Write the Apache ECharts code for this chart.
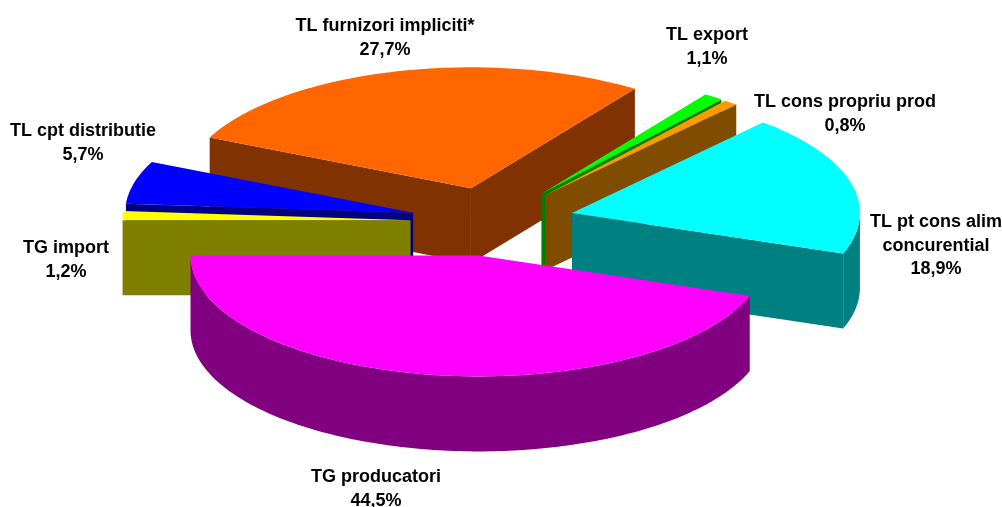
<!DOCTYPE html>
<html>
<head>
<meta charset="utf-8">
<title>Structura TL / TG</title>
<script src="https://cdn.jsdelivr.net/npm/echarts@6/dist/echarts.min.js"></script>
<style>
html,body{margin:0;padding:0;background:#fff;overflow:hidden;}
#container1{width:1002px;height:507px;}
</style>
</head>
<body>
<div id="container1"></div>
<script>
// slices in pie order, going round from the left edge through the front
var categories=['TG producatori','TL pt cons alim\nconcurential','TL cons propriu prod','TL export','TL furnizori impliciti*','TL cpt distributie','TG import'];
var shares=[44.5,18.9,0.8,1.1,27.7,5.7,1.2];

// colours: top face / side walls
var topColors=['#FF00FF','#00FFFF','#FF9900','#00FF00','#FF6600','#0000FF','#FFFF00'];
var sideColors=['#800080','#008080','#804D00','#008000','#803300','#000080','#808000'];

// label centres (first line), same order as categories
var labelX=[376,936,845,707,385,83,66];
var labelY=[477,222,102,35,26,131,248];

// 3d pie layout
var centerX=492.5,centerY=221.5;
var radius=288,tilt=0.42,depth=75,explode=82;
var startAngle=180;   // degrees, counter clockwise on the ground, front of the pie is 180..360

var total=0;
for(var i=0;i<shares.length;i++){total+=shares[i];}

var slices=[];
var cursor=startAngle;
for(var i=0;i<shares.length;i++){
	var sweep=shares[i]/total*360;
	var mid=(cursor+sweep/2)*Math.PI/180;
	slices.push({
		from:cursor,
		to:cursor+sweep,
		apexX:centerX+explode*Math.cos(mid),
		apexY:centerY-explode*Math.sin(mid)*tilt
	});
	cursor+=sweep;
}

// far slices first so the near ones paint over them
var drawOrder=[];
for(var i=0;i<slices.length;i++){drawOrder.push(i);}
drawOrder.sort(function(a,b){return slices[a].apexY-slices[b].apexY;});

function rimPoint(s,deg,drop){
	var r=deg*Math.PI/180;
	return [s.apexX+radius*Math.cos(r),s.apexY-radius*Math.sin(r)*tilt+drop];
}

function poly(points,color){
	return {type:'polygon',shape:{points:points},style:{fill:color}};
}

function cutWall(s,deg,color){
	var a=[s.apexX,s.apexY],b=rimPoint(s,deg,0);
	return poly([a,b,[b[0],b[1]+depth],[a[0],a[1]+depth]],color);
}

// a face is seen when its outward normal points to the front
function facesViewer(deg){
	return Math.sin(deg*Math.PI/180)<0;
}

function renderSlice(params,api){
	var idx=api.value(0);
	var s=slices[idx];
	var side=sideColors[idx];
	var children=[];
	if(facesViewer(s.from-90)){children.push(cutWall(s,s.from,side));}
	if(facesViewer(s.to+90)){children.push(cutWall(s,s.to,side));}
	// outer wall, only the part of the rim on the front half
	var upper=[],lower=[];
	for(var d=s.from;d<s.to+1;d+=1){
		var dd=Math.min(d,s.to);
		if(Math.sin(dd*Math.PI/180)>0.01){continue;}
		upper.push(rimPoint(s,dd,0));
		lower.unshift(rimPoint(s,dd,depth));
	}
	if(upper.length>1){children.push(poly(upper.concat(lower),side));}
	// top face
	var top=[[s.apexX,s.apexY]];
	for(var d=s.from;d<s.to;d+=1){top.push(rimPoint(s,d,0));}
	top.push(rimPoint(s,s.to,0));
	children.push(poly(top,topColors[idx]));
	// label
	children.push({
		type:'text',
		x:labelX[idx],
		y:labelY[idx]-12,
		style:{
			text:categories[idx]+'\n'+shares[idx].toFixed(1).replace('.',',')+'%',
			fill:'#000',
			font:'bold 18px "Liberation Sans", Arial, sans-serif',
			lineHeight:23.7,
			align:'center',
			verticalAlign:'top'
		}
	});
	return {type:'group',children:children};
}

var myChart=echarts.init(document.getElementById('container1'));
var option={
	backgroundColor:'#fff',
	animation:false,
	tooltip:{show:false},
	series:[{
		type:'custom',
		coordinateSystem:'none',
		silent:true,
		renderItem:renderSlice,
		data:drawOrder.map(function(k){return [k];})
	}]
};
myChart.setOption(option);
</script>
</body>
</html>
